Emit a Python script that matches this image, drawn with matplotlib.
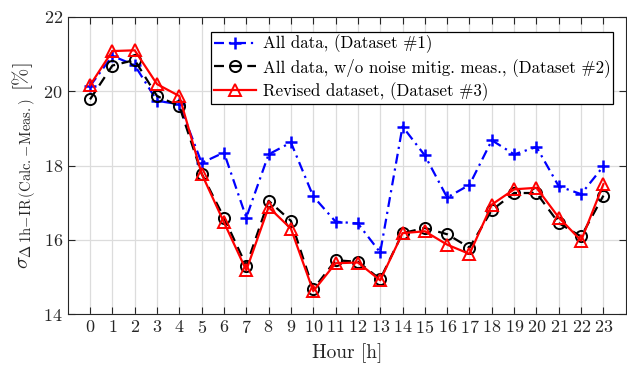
import matplotlib
matplotlib.use("Agg")
import matplotlib.pyplot as plt
import numpy as np

# values
hours = list(range(24))
all_data = [20.14, 20.95, 20.70, 19.74, 19.65, 18.07, 18.35, 16.60, 18.30, 18.62,
            17.17, 16.49, 16.44, 15.66, 19.05, 18.27, 17.14, 17.48, 18.68, 18.30,
            18.50, 17.44, 17.23, 17.98]
no_noise = [19.78, 20.69, 20.84, 19.87, 19.60, 17.78, 16.60, 15.30, 17.05, 16.51,
            14.67, 15.45, 15.41, 14.94, 16.18, 16.32, 16.15, 15.79, 16.80, 17.26,
            17.26, 16.45, 16.09, 17.19]
revised = [20.16, 21.08, 21.10, 20.19, 19.87, 17.78, 16.47, 15.18, 16.88, 16.30,
           14.62, 15.37, 15.39, 14.91, 16.18, 16.23, 15.87, 15.62, 16.95, 17.36,
           17.40, 16.60, 15.98, 17.50]
labels = ["All data, (Dataset #1)",
          "All data, w/o noise mitig. meas., (Dataset #2)",
          "Revised dataset, (Dataset #3)"]

plt.rcParams["font.family"] = "serif"
plt.rcParams["font.serif"] = ["cmr10"]
plt.rcParams["mathtext.fontset"] = "cm"
plt.rcParams["axes.formatter.use_mathtext"] = True

fig = plt.figure(figsize=(6.27, 3.67), dpi=100)
ax = fig.add_axes([0.108, 0.144, 0.890, 0.810])

ax.plot(hours, all_data, color="blue", linestyle="-.", dashes=(4.5, 2.2, 1, 2.2),
        linewidth=1.6, marker="+", markersize=9, markeredgewidth=1.8,
        label=labels[0])
ax.plot(hours, no_noise, color="black", linestyle="--", dashes=(4.5, 3),
        linewidth=1.6, marker="o", markersize=8, markerfacecolor="none",
        markeredgewidth=1.4, label=labels[1])
ax.plot(hours, revised, color="red", linestyle="-", linewidth=1.6,
        marker="^", markersize=8, markerfacecolor="none", markeredgewidth=1.4,
        label=labels[2])

ax.set_xlim(-1, 24)
ax.set_ylim(14, 22)
ax.set_xticks(hours)
ax.set_yticks([14, 16, 18, 20, 22])
ax.tick_params(direction="in", top=True, right=True, labelsize=13, length=5,
               color="#262626")
for lab in ax.get_xticklabels() + ax.get_yticklabels():
    lab.set_color("#262626")
ax.grid(True, color="#dcdcdc", linewidth=0.9)
ax.set_axisbelow(True)
for sp in ax.spines.values():
    sp.set_color("#262626")
    sp.set_linewidth(0.8)

ax.set_xlabel("Hour [h]", fontsize=14, color="#262626", labelpad=5)
ax.set_ylabel(r"$\sigma_{\Delta\,\mathrm{1h\!-\!IR\,(Calc.\!-\!Meas.)}}$ [%]",
              fontsize=15, color="#262626", labelpad=4)

leg = ax.legend(loc="upper right", bbox_to_anchor=(0.9775, 0.949), fontsize=12.2,
                fancybox=False, framealpha=1, edgecolor="black",
                borderpad=0.15, labelspacing=0.3, handlelength=2.5,
                handletextpad=0.4, borderaxespad=0)
leg.get_frame().set_linewidth(0.9)

fig.savefig("out.png", dpi=100)
